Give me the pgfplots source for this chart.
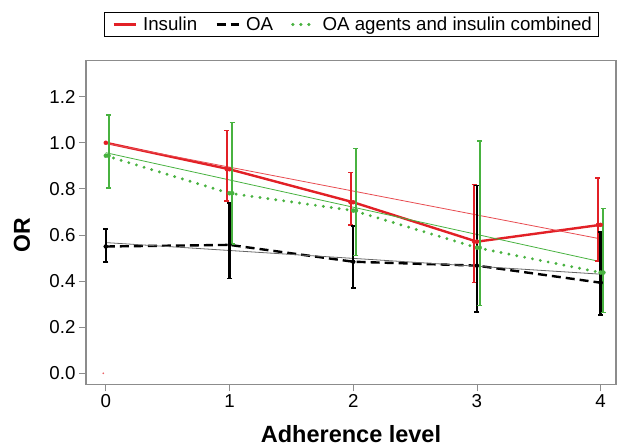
\documentclass[border=0pt]{standalone}
\usepackage{pgfplots}
\pgfplotsset{compat=1.18}
\usepackage{pgfplotstable}
\usepackage{fontspec}
\setmainfont{Liberation Sans}

\definecolor{cred}{RGB}{226,32,38}
\definecolor{cgreen}{RGB}{72,178,64}
\definecolor{cgrey}{RGB}{140,140,140}

\pgfplotstableread{
x y
0 1.000
1 0.885
2 0.742
3 0.571
4 0.644
}\insulin
% x shifted slightly left, as the bars are drawn in the reference
\pgfplotstableread{
x y lo hi
0.978 0.885 0.748 1.052
1.978 0.742 0.644 0.872
2.978 0.571 0.395 0.820
3.978 0.644 0.487 0.848
}\insulinerr
\pgfplotstableread{
x y lo hi
0 0.550 0.482 0.625
1 0.557 0.412 0.738
2 0.484 0.369 0.639
3 0.467 0.267 0.814
4 0.393 0.253 0.612
}\oa
\pgfplotstableread{
x y lo hi
0 0.944 0.803 1.120
1 0.781 0.561 1.088
2 0.706 0.511 0.974
3 0.545 0.293 1.008
4 0.437 0.265 0.715
}\comb
\pgfplotstableread{
x y lo hi
0.022 0.944 0.803 1.120
1.022 0.781 0.561 1.088
2.022 0.706 0.511 0.974
3.022 0.545 0.293 1.008
4.022 0.437 0.265 0.715
}\comberr

\begin{document}
\begin{tikzpicture}
\begin{axis}[name=ax,
  scale only axis, width=530pt, height=323.6pt,
  xmin=-0.16, xmax=4.124, ymin=-0.0477, ymax=1.356,
  xtick={0,1,2,3,4}, ytick={0,0.2,0.4,0.6,0.8,1.0,1.2},
  /pgf/number format/assume math mode=true,
  yticklabel style={/pgf/number format/.cd, fixed, fixed zerofill, precision=1},
  tick label style={font=\fontsize{18.7}{21}\selectfont},
  tick align=outside, major tick length=7pt,
  tick style={cgrey, line width=0.8pt},
  axis line style={cgrey, line width=1.2pt},
  xtick pos=bottom, ytick pos=left,
  xlabel={\textbf{Adherence level}},
  ylabel={\textbf{OR}},
  xlabel style={font=\fontsize{23.5}{26}\selectfont, at={(axis description cs:0.5,-0.155)}, anchor=center},
  ylabel style={font=\fontsize{23}{26}\selectfont, at={(axis description cs:-0.121,0.46)}, anchor=center},
  legend columns=3,
  legend image code/.code={\draw[mark repeat=2,mark phase=2] plot coordinates {(0pt,0pt) (11pt,0pt) (22pt,0pt)};
    \path (-4pt,0pt) (26pt,0pt);},
  legend style={at={(0.5,1)}, anchor=south, yshift=24pt, draw=black,
    font=\fontsize{18.7}{21}\selectfont, inner xsep=4pt, inner ysep=2.5pt,
    /tikz/every even column/.append style={column sep=12pt}},
  legend cell align=left,
]
% main series (lines only, for the legend)
\addplot[cred, line width=2.4pt, legend image post style={line width=3pt}] table[x=x,y=y] {\insulin};
\addlegendentry{Insulin}
\addplot[black, line width=2.4pt, dash pattern=on 9pt off 5pt, legend image post style={line width=3pt}] table[x=x,y=y] {\oa};
\addlegendentry{OA}
\addplot[cgreen, line width=3.2pt, line cap=round, dash pattern=on 0pt off 8pt, legend image post style={line width=3.4pt}] table[x=x,y=y] {\comb};
\addlegendentry{OA agents and insulin combined}

% point marks
\addplot[cred, only marks, mark=*, mark size=2pt, forget plot] table[x=x,y=y] {\insulin};
\addplot[black, only marks, mark=*, mark size=1.8pt, forget plot] table[x=x,y=y] {\oa};
\addplot[cgreen, only marks, mark=*, mark size=2pt, forget plot] table[x=x,y=y] {\comb};

% fitted trend lines
\addplot[cred!80, line width=0.8pt, forget plot] coordinates {(0,0.998) (4,0.583)};
\addplot[black!60, line width=0.8pt, forget plot] coordinates {(0,0.567) (4,0.430)};
\addplot[cgreen, line width=0.8pt, forget plot] coordinates {(0,0.957) (4,0.484)};

% error bars
\addplot[cred, only marks, mark=none, forget plot,
  error bars/.cd, y dir=both, y explicit,
  error bar style={cred, line width=2pt},
  error mark options={rotate=90, mark size=2.5pt, line width=1.4pt, cred}]
  table[x=x, y=y, y error plus expr=\thisrow{hi}-\thisrow{y}, y error minus expr=\thisrow{y}-\thisrow{lo}] {\insulinerr};
\addplot[black, only marks, mark=none, forget plot,
  error bars/.cd, y dir=both, y explicit,
  error bar style={black, line width=2.5pt},
  error mark options={rotate=90, mark size=2.5pt, line width=1.6pt, black}]
  table[x=x, y=y, y error plus expr=\thisrow{hi}-\thisrow{y}, y error minus expr=\thisrow{y}-\thisrow{lo}] {\oa};
\addplot[cgreen, only marks, mark=none, forget plot,
  error bars/.cd, y dir=both, y explicit,
  error bar style={cgreen, line width=2pt},
  error mark options={rotate=90, mark size=2.5pt, line width=1.4pt, cgreen}]
  table[x=x, y=y, y error plus expr=\thisrow{hi}-\thisrow{y}, y error minus expr=\thisrow{y}-\thisrow{lo}] {\comberr};

% stray point at the origin
\addplot[cred!70, only marks, mark=*, mark size=0.6pt, forget plot] coordinates {(-0.02,0.0)};
\end{axis}
\pgfresetboundingbox
\path ([shift={(-86pt,-62.7pt)}]ax.south west) rectangle ([shift={(4pt,60.7pt)}]ax.north east);
\end{tikzpicture}
\end{document}
